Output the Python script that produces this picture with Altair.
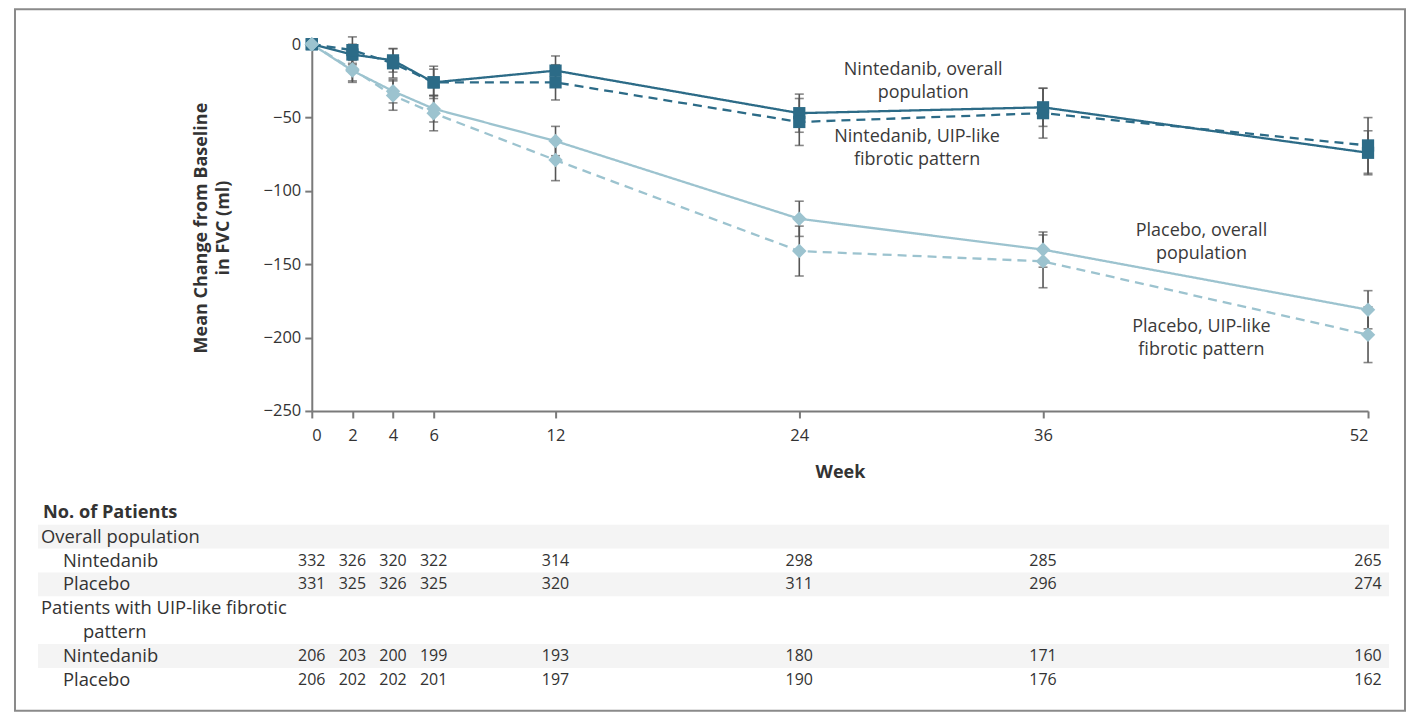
import altair as alt
import pandas as pd

# ---------------- data ----------------
weeks = [0, 2, 4, 6, 12, 24, 36, 52]

nin_all = [0, -7, -11, -26, -18, -47, -43, -74]
nin_uip = [0, -4, -13, -26, -26, -53, -47, -69]
pla_all = [0, -18, -32, -44, -66, -119, -140, -181]
pla_uip = [0, -17, -35, -47, -79, -141, -148, -198]

se_nin_all = [0, 7, 8, 9, 10, 13, 13, 15]
se_nin_uip = [0, 9, 10, 11, 12, 16, 17, 19]
se_pla_all = [0, 7, 8, 9, 10, 12, 12, 13]
se_pla_uip = [0, 9, 10, 12, 14, 17, 18, 19]

drugs = ["Nintedanib", "Nintedanib", "Placebo", "Placebo"]
pops = ["overall", "uip", "overall", "uip"]

# patients at risk
n_nin_all = [332, 326, 320, 322, 314, 298, 285, 265]
n_pla_all = [331, 325, 326, 325, 320, 311, 296, 274]
n_nin_uip = [206, 203, 200, 199, 193, 180, 171, 160]
n_pla_uip = [206, 202, 202, 201, 197, 190, 176, 162]

row_labels = ["No. of Patients", "Overall population", "Nintedanib", "Placebo",
              "Patients with UIP-like fibrotic", "pattern", "Nintedanib", "Placebo"]
row_level = [3, 0, 1, 1, 0, 2, 1, 1]   # 3 = bold heading
row_shaded = [0, 1, 0, 1, 0, 0, 1, 0]

# annotations (anchored at first line)
ann_text = ["Nintedanib, overall\npopulation",
            "Nintedanib, UIP-like\nfibrotic pattern",
            "Placebo, overall\npopulation",
            "Placebo, UIP-like\nfibrotic pattern"]
ann_week = [30.1, 29.8, 43.8, 43.8]
ann_y = [-17.7, -63.4, -127.4, -192.8]

# ---------------- build tables ----------------
means = [nin_all, nin_uip, pla_all, pla_uip]
ses = [se_nin_all, se_nin_uip, se_pla_all, se_pla_uip]
recs = []
for k in range(4):
    for i, w in enumerate(weeks):
        recs.append({"series": k, "drug": drugs[k], "pop": pops[k], "week": w,
                     "mean": means[k][i],
                     "lo": means[k][i] - ses[k][i], "hi": means[k][i] + ses[k][i]})
df = pd.DataFrame(recs)
df_bars = df[df["week"] > 0]

ann = pd.DataFrame({"text": ann_text, "week": ann_week, "y": ann_y})

nums = []
for r, arr in [(2, n_nin_all), (3, n_pla_all), (6, n_nin_uip), (7, n_pla_uip)]:
    for i, w in enumerate(weeks):
        nums.append({"row": r, "week": w, "n": arr[i]})
nums = pd.DataFrame(nums)
rows = pd.DataFrame({"row": list(range(len(row_labels))), "label": row_labels,
                     "level": row_level, "shaded": row_shaded})

FONT = "Open Sans"
DARK = "#2c6b87"
LIGHT = "#9cc3cf"
TXT = "#333333"

xscale = alt.Scale(domain=[0, 52], nice=False, zero=False)
yscale = alt.Scale(domain=[-250, 0], nice=False)

X = alt.X("week:Q", scale=xscale,
          axis=alt.Axis(values=weeks, title="Week", labelFontSize=16.5, labelFont=FONT,
                        labelColor=TXT, titleFont=FONT, titleFontSize=18,
                        titleFontWeight="bold", titleColor=TXT, titlePadding=19,
                        domainColor="#7a7a7a", domainWidth=2, tickColor="#7a7a7a",
                        tickWidth=2, tickSize=7, labelPadding=10, grid=False))
Y = alt.Y("mean:Q", scale=yscale,
          axis=alt.Axis(values=[-250, -200, -150, -100, -50, 0],
                        title=["Mean Change from Baseline", "in FVC (ml)"],
                        labelFontSize=16.5, labelFont=FONT, labelColor=TXT,
                        titleFont=FONT, titleFontSize=18, titleFontWeight="bold",
                        titleColor=TXT, titlePadding=31, titleLineHeight=22,
                        domainColor="#7a7a7a", domainWidth=2, tickColor="#7a7a7a",
                        tickWidth=2, tickSize=7, labelPadding=4, grid=False))

color = alt.Color("drug:N", scale=alt.Scale(domain=["Nintedanib", "Placebo"], range=[DARK, LIGHT]),
                  legend=None)
dash = alt.StrokeDash("pop:N", scale=alt.Scale(domain=["overall", "uip"], range=[[1, 0], [9, 6]]),
                      legend=None)

base = alt.Chart(df)

lines = base.mark_line(strokeWidth=2.3).encode(x=X, y=Y, color=color, strokeDash=dash,
                                               detail="series:N")

rules = alt.Chart(df_bars).mark_rule(color="#555555", strokeWidth=1.6).encode(
    x="week:Q", y="lo:Q", y2="hi:Q")
cap_lo = alt.Chart(df_bars).mark_tick(color="#555555", thickness=1.6, size=9,
                                      orient="horizontal").encode(x="week:Q", y="lo:Q")
cap_hi = alt.Chart(df_bars).mark_tick(color="#555555", thickness=1.6, size=9,
                                      orient="horizontal").encode(x="week:Q", y="hi:Q")

pts_n = alt.Chart(df[df["drug"] == "Nintedanib"]).mark_point(
    shape="square", filled=True, size=150, opacity=1, color=DARK).encode(x="week:Q", y="mean:Q")
pts_p = alt.Chart(df[df["drug"] == "Placebo"]).mark_point(
    shape="diamond", filled=True, size=210, opacity=1, color=LIGHT).encode(x="week:Q", y="mean:Q")

labels = alt.Chart(ann).mark_text(font=FONT, fontSize=18, color="#3a3a3a", align="center",
                                  baseline="middle", lineBreak="\n", lineHeight=22.5).encode(
    x="week:Q", y="y:Q", text="text:N")

frame = alt.Chart(pd.DataFrame({"a": [0]})).mark_rect(
    filled=False, stroke="#8a8a8a", strokeWidth=2).encode(
    x=alt.value(-297), x2=alt.value(1094), y=alt.value(-35), y2=alt.value(667))

plot = alt.layer(frame, lines, rules, cap_lo, cap_hi, pts_n, pts_p, labels).properties(
    width=1057, height=367)

# ---------------- table ----------------
yrow = alt.Y("row:O", axis=None,
             scale=alt.Scale(domain=list(range(len(row_labels))), paddingInner=0, paddingOuter=0))

shade = alt.Chart(rows).transform_filter("datum.shaded == 1").mark_rect(
    color="#f4f4f4").encode(x=alt.value(-274), x2=alt.value(1078), y=yrow)

def row_text(level, xpos, weight="normal", size=18.4):
    return alt.Chart(rows).transform_filter(f"datum.level == {level}").mark_text(
        font=FONT, fontSize=size, fontWeight=weight, color=TXT, align="left",
        baseline="middle").encode(x=alt.value(xpos), y=yrow, text="label:N")

numbers = alt.Chart(nums).mark_text(font=FONT, fontSize=16, color=TXT,
                                    align="center", baseline="middle").encode(
    x=alt.X("week:Q", scale=xscale, axis=None), y=yrow, text="n:Q")

table = alt.layer(shade, row_text(3, -269, "bold", 18.2), row_text(0, -271), row_text(1, -249),
                  row_text(2, -229), numbers).properties(width=1057, height=191)

chart = alt.vconcat(plot, table, spacing=90, bounds="flush").properties(
    padding={"left": 6, "top": 0, "right": 0, "bottom": 0}
).configure_view(stroke=None).resolve_scale(x="independent", y="independent")

chart.save("out.html", embed_options={"renderer": "svg", "actions": False})
